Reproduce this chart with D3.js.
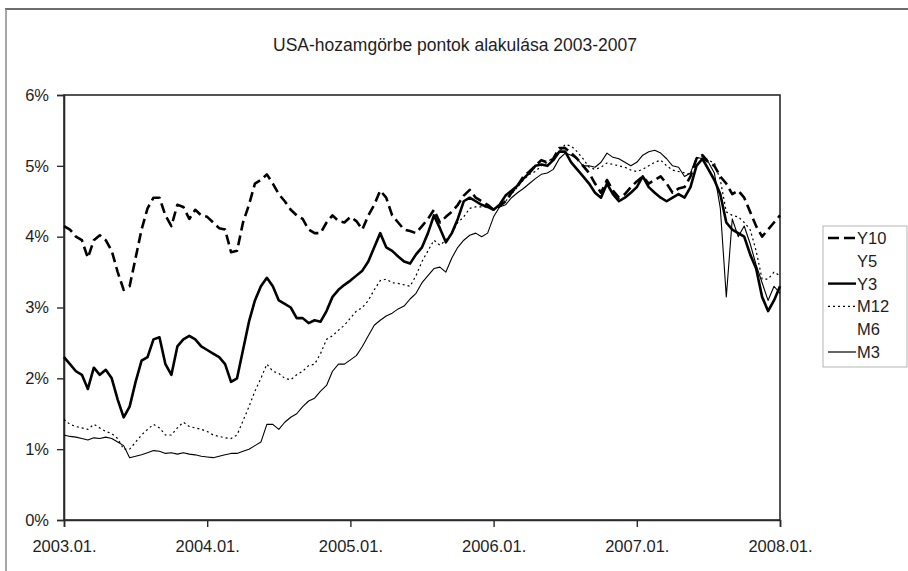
<!DOCTYPE html>
<html><head><meta charset="utf-8">
<script src="https://cdn.jsdelivr.net/npm/d3@7"></script>
<style>
html,body{margin:0;padding:0;background:#fff;}
svg{display:block;font-family:"Liberation Sans",Arial,sans-serif;}
</style></head>
<body><svg id="chart" width="908" height="571"></svg>
<script>
// Half-monthly grid from 2003.01 to 2008.01 (decimal years)
const startYear = 2003, stepsPerYear = 24, nPoints = 121;
const xTickLabels = ["2003.01.","2004.01.","2005.01.","2006.01.","2007.01.","2008.01."];
const yTickLabels = ["0%","1%","2%","3%","4%","5%","6%"];
const seriesNames = ["Y10","Y5","Y3","M12","M6","M3"];

const Y10 = [4.15,4.1,4.0,3.95,3.7,3.95,4.02,3.95,3.8,3.5,3.25,3.3,3.7,4.1,4.4,4.55,4.55,4.3,4.15,4.45,4.42,4.25,4.38,4.3,4.28,4.2,4.12,4.1,3.78,3.8,4.2,4.45,4.75,4.8,4.88,4.75,4.6,4.5,4.38,4.3,4.25,4.1,4.05,4.05,4.2,4.3,4.22,4.2,4.28,4.22,4.1,4.3,4.45,4.65,4.55,4.3,4.2,4.1,4.08,4.05,4.15,4.25,4.38,4.2,4.28,4.35,4.45,4.58,4.66,4.55,4.5,4.45,4.38,4.43,4.5,4.62,4.72,4.85,4.92,5.0,5.08,5.05,5.1,5.25,5.25,5.18,5.1,5.0,4.9,4.75,4.62,4.8,4.65,4.55,4.6,4.7,4.78,4.85,4.75,4.8,4.85,4.75,4.62,4.68,4.7,4.85,5.1,5.15,5.05,5.0,4.85,4.75,4.6,4.65,4.55,4.35,4.15,4.0,4.1,4.2,4.3];
const Y5 = [];
const Y3 = [2.3,2.2,2.1,2.05,1.85,2.15,2.05,2.12,2.0,1.7,1.45,1.6,1.95,2.25,2.3,2.55,2.58,2.2,2.05,2.45,2.55,2.6,2.55,2.45,2.4,2.35,2.3,2.2,1.95,2.0,2.4,2.8,3.1,3.3,3.42,3.3,3.1,3.05,3.0,2.85,2.85,2.78,2.82,2.8,2.95,3.15,3.25,3.32,3.38,3.45,3.52,3.65,3.85,4.05,3.85,3.8,3.72,3.65,3.62,3.75,3.85,4.05,4.3,4.12,3.92,4.05,4.25,4.5,4.55,4.5,4.45,4.42,4.38,4.45,4.58,4.65,4.72,4.82,4.9,5.0,5.02,5.0,5.08,5.2,5.2,5.05,4.95,4.85,4.75,4.62,4.55,4.75,4.6,4.5,4.55,4.62,4.7,4.85,4.7,4.62,4.55,4.5,4.55,4.6,4.55,4.7,5.0,5.1,4.95,4.8,4.6,4.2,4.1,4.05,4.0,3.75,3.55,3.15,2.95,3.1,3.3];
const M12 = [1.42,1.35,1.32,1.3,1.28,1.35,1.3,1.25,1.22,1.15,1.0,1.0,1.1,1.2,1.28,1.35,1.3,1.2,1.2,1.3,1.38,1.32,1.3,1.28,1.25,1.2,1.18,1.16,1.15,1.2,1.4,1.6,1.82,2.0,2.2,2.1,2.07,2.0,1.98,2.05,2.1,2.18,2.2,2.35,2.55,2.6,2.68,2.75,2.85,2.95,3.0,3.1,3.25,3.38,3.4,3.35,3.34,3.32,3.3,3.45,3.65,3.8,3.95,3.88,3.95,4.05,4.2,4.28,4.4,4.42,4.42,4.42,4.38,4.45,4.5,4.6,4.7,4.8,4.88,4.92,5.0,5.05,5.12,5.2,5.3,5.28,5.2,5.1,4.98,4.95,4.98,5.04,5.02,5.0,4.98,4.94,4.92,4.95,5.0,5.05,5.08,5.0,4.94,4.92,4.9,4.88,5.1,5.13,5.08,5.04,4.8,4.35,4.3,4.28,4.2,4.1,3.8,3.4,3.4,3.5,3.45];
const M6 = [];
const M3 = [1.2,1.18,1.17,1.15,1.13,1.16,1.15,1.17,1.15,1.1,1.05,0.88,0.9,0.92,0.95,0.98,0.97,0.94,0.95,0.93,0.95,0.93,0.92,0.9,0.89,0.88,0.9,0.92,0.94,0.94,0.97,1.0,1.05,1.1,1.35,1.35,1.28,1.38,1.45,1.5,1.6,1.68,1.72,1.82,1.9,2.1,2.2,2.2,2.26,2.32,2.45,2.6,2.75,2.82,2.88,2.92,2.98,3.02,3.12,3.2,3.35,3.45,3.55,3.57,3.5,3.7,3.85,3.95,4.02,4.05,4.0,4.05,4.28,4.42,4.45,4.55,4.62,4.68,4.75,4.82,4.88,4.9,4.95,5.1,5.18,5.15,5.1,5.0,5.0,4.98,5.05,5.18,5.12,5.1,5.05,5.0,5.05,5.15,5.2,5.22,5.18,5.1,5.0,4.98,4.85,4.9,5.12,5.1,5.05,4.9,4.4,3.15,4.25,4.0,4.15,3.9,3.6,3.35,3.1,3.3,3.2];

const svg = d3.select("#chart");
const W = 908, H = 571;
const plot = {left: 64, right: 780, top: 95, bottom: 520};
const textColor = "#1e1e1e";

// outer frame remnants (top and left edges)
svg.append("line").attr("x1",5).attr("x2",W).attr("y1",9).attr("y2",9).attr("stroke","#6e6e6e").attr("stroke-width",2);
svg.append("line").attr("x1",6).attr("x2",6).attr("y1",9).attr("y2",H).attr("stroke","#8a8a8a").attr("stroke-width",1.5);

const x = d3.scaleLinear().domain([startYear, startYear+5]).range([plot.left, plot.right]);
const y = d3.scaleLinear().domain([0, 6]).range([plot.bottom, plot.top]);

// title
svg.append("text").attr("x", 455).attr("y", 51).attr("text-anchor","middle")
  .attr("font-size", 17.5).attr("fill",textColor).text("USA-hozamgörbe pontok alakulása 2003-2007");

// plot frame
svg.append("rect").attr("x",plot.left).attr("y",plot.top).attr("width",plot.right-plot.left).attr("height",plot.bottom-plot.top)
  .attr("fill","#fff").attr("stroke","#2a2a2a").attr("stroke-width",1.6);

// axes
const yAxis = d3.axisLeft(y).tickValues(d3.range(0,7)).tickFormat((d,i)=>yTickLabels[i]).tickSize(7).tickPadding(8);
const gy = svg.append("g").attr("transform",`translate(${plot.left},0)`).call(yAxis);
const xAxis = d3.axisBottom(x).tickValues(d3.range(startYear,startYear+6)).tickFormat((d,i)=>xTickLabels[i]).tickSize(7).tickPadding(13);
const gx = svg.append("g").attr("transform",`translate(0,${plot.bottom})`).call(xAxis);
[gx, gy].forEach(g=>{
  g.select(".domain").attr("stroke","#2a2a2a").attr("stroke-width",1.6);
  g.selectAll(".tick line").attr("stroke","#2a2a2a").attr("stroke-width",1.4);
  g.selectAll(".tick text").attr("font-size",16.5).attr("fill",textColor).attr("font-family","'Liberation Sans',Arial,sans-serif");
});

const styles = {
  Y10: {data: Y10, width: 2.6, dash: "10,5"},
  Y5:  {data: Y5,  width: 0,   dash: null},
  Y3:  {data: Y3,  width: 2.6, dash: null},
  M12: {data: M12, width: 1.2, dash: "2,3"},
  M6:  {data: M6,  width: 0,   dash: null},
  M3:  {data: M3,  width: 1.1, dash: null}
};

const line = d3.line().x((d,i)=>x(startYear + i/stepsPerYear)).y(d=>y(d));
const drawOrder = ["M3","M12","Y3","Y10"];
drawOrder.forEach(name=>{
  const s = styles[name];
  if (!s.data.length) return;
  const p = svg.append("path").datum(s.data).attr("d", line)
    .attr("fill","none").attr("stroke","#000").attr("stroke-width", s.width)
    .attr("stroke-linejoin","round");
  if (s.dash) p.attr("stroke-dasharray", s.dash);
});

// legend
const lg = svg.append("g");
lg.append("rect").attr("x",823).attr("y",226).attr("width",84).attr("height",141)
  .attr("fill","#fff").attr("stroke","#b5b5b5").attr("stroke-width",1);
seriesNames.forEach((name,i)=>{
  const cy = 238 + i*22.8;
  const s = styles[name];
  if (s.width > 0) {
    const l = lg.append("line").attr("x1",828).attr("x2",856).attr("y1",cy).attr("y2",cy)
      .attr("stroke","#000").attr("stroke-width", name==="Y10"||name==="Y3" ? 2.4 : 1.2);
    if (s.dash) l.attr("stroke-dasharray", name==="Y10" ? "11,5" : "2,3");
  }
  lg.append("text").attr("x",857).attr("y",cy+6).attr("font-size",16.5).attr("fill",textColor).text(name);
});
</script></body></html>
